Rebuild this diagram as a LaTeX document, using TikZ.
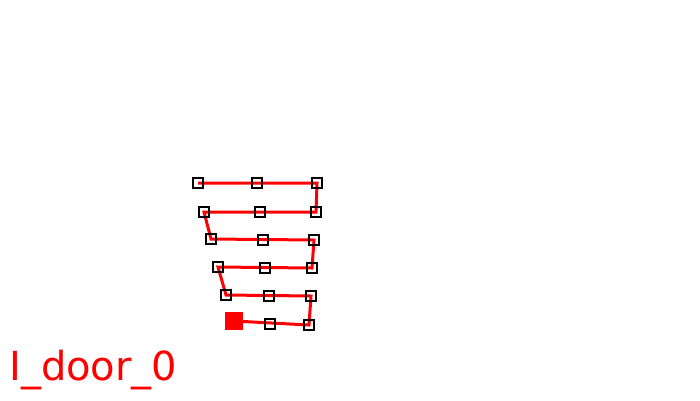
\documentclass[tikz,border=0pt]{standalone}
\usepackage{fontspec}
\setmainfont{DejaVu Sans}
\begin{document}
\begin{tikzpicture}[x=1pt,y=-1pt,
  pt/.style={draw=black,line width=2pt,minimum size=10pt,inner sep=0pt,fill=none},
  startpt/.style={fill=red,draw=none,minimum size=18pt,inner sep=0pt},
  pathline/.style={draw=red,line width=3pt}]
\useasboundingbox (0,0) rectangle (700,400);
\coordinate (s) at (234,321);
\coordinate (m6) at (270,324);
\coordinate (r6) at (309,325);
\coordinate (r5) at (311,296);
\coordinate (m5) at (269,296);
\coordinate (l5) at (226,295);
\coordinate (l4) at (218,267);
\coordinate (m4) at (265,268);
\coordinate (r4) at (312,268);
\coordinate (r3) at (314,240);
\coordinate (m3) at (263,240);
\coordinate (l3) at (211,239);
\coordinate (l2) at (204,212);
\coordinate (m2) at (260,212);
\coordinate (r2) at (316,212);
\coordinate (r1) at (317,183);
\coordinate (m1) at (257,183);
\coordinate (l1) at (198,183);
\draw[pathline] (s) -- (r6) -- (r5) -- (l5) -- (l4) -- (r4) -- (r3) -- (l3) -- (l2) -- (r2) -- (r1) -- (l1);
\foreach \c in {m6,r6,r5,m5,l5,l4,m4,r4,r3,m3,l3,l2,m2,r2,r1,m1,l1}
  \node[pt] (n\c) at (\c) {};
\node[startpt] (nstart) at (s) {};
\node[anchor=base west,inner sep=0pt,text=red,font=\fontsize{40}{40}\selectfont] (label) at (9,380) {I\_door\_0};
\end{tikzpicture}
\end{document}
